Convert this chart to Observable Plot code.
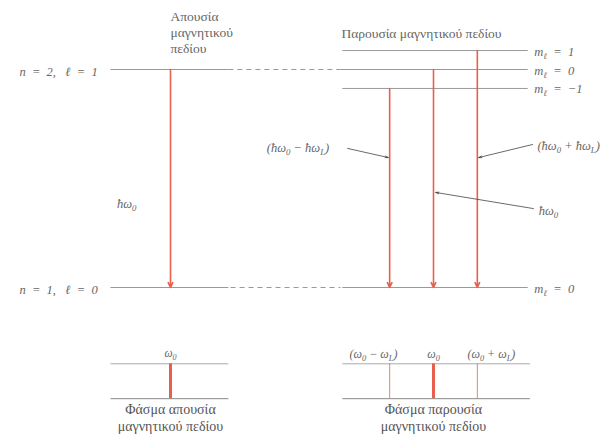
<!DOCTYPE html>
<html>
<head>
<meta charset="utf-8">
<script src="https://cdn.jsdelivr.net/npm/d3@7"></script>
<script src="https://cdn.jsdelivr.net/npm/@observablehq/plot@0.6"></script>
<style>
  html, body { margin: 0; padding: 0; background: #fff; }
  #chart svg { display: block; }
</style>
</head>
<body>
<div id="chart"></div>
<script>
// ---- Data (diagram units: x = column position, y = energy, n=1 level at 0) ----
const E1 = 0;            // n = 1, ℓ = 0
const E2 = 10;           // n = 2, ℓ = 1
const dE = 0.87;         // Zeeman shift per unit of mℓ
const mValues = [1, 0, -1];
const colNoField = 0;    // column without field
const colField = 6;      // column with field

const levelLabels = ["n  =  2,   ℓ  =  1", "n  =  1,   ℓ  =  0"];
const mLabels = ["m_ℓ  =  1", "m_ℓ  =  0", "m_ℓ  =  −1"];
const groundLabel = "m_ℓ  =  0";

const titleNoField = "Απουσία\nμαγνητικού\nπεδίου";
const titleField = "Παρουσία μαγνητικού πεδίου";
const specTitleNoField = "Φάσμα απουσία\nμαγνητικού πεδίου";
const specTitleField = "Φάσμα παρουσία\nμαγνητικού πεδίου";

const energyLabelLeft = "ħω_0";
const transitionLabels = ["(ħω_0 − ħω_L)", "ħω_0", "(ħω_0 + ħω_L)"];
const spectrumLabelLeft = "ω_0";
const spectrumLabels = ["(ω_0 − ω_L)", "ω_0", "(ω_0 + ω_L)"];

// level segments
const levelSegments = [
  {x1: -1.37, x2: 1.32, y: E2, dash: false},
  {x1: 1.32, x2: 3.88, y: E2, dash: true},
  {x1: 3.88, x2: 8.15, y: E2, dash: false},
  {x1: 3.92, x2: 8.15, y: E2 + dE, dash: false},
  {x1: 3.92, x2: 8.15, y: E2 - dE, dash: false},
  {x1: -1.37, x2: 1.32, y: E1, dash: false},
  {x1: 1.37, x2: 3.88, y: E1, dash: true},
  {x1: 3.92, x2: 8.15, y: E1, dash: false}
];

// spectrum rows (diagram units below the ground level)
const specTop = -3.5, specBottom = -5.1;
const specFrames = [
  {x1: -1.37, x2: 1.32, y: specTop, c: "#aaa"},
  {x1: -1.37, x2: 1.32, y: specBottom, c: "#888"},
  {x1: 3.92, x2: 8.2, y: specTop, c: "#aaa"},
  {x1: 3.92, x2: 8.2, y: specBottom, c: "#888"}
];

// transitions
const transitions = [
  {x: colNoField, from: E2, to: E1},
  ...mValues.map(m => ({x: colField + m, from: E2 + m * dE, to: E1}))
];
const spectralLines = [
  {x: colNoField, w: 3},
  ...mValues.map(m => ({x: colField + m, w: m === 0 ? 3 : 0.8}))
];

// annotation pointers
const pointers = [
  {x1: 4.04, y1: 6.38, x2: 4.97, y2: 5.96},
  {x1: 8.28, y1: 3.62, x2: 6.05, y2: 4.36},
  {x1: 8.26, y1: 6.56, x2: 7.03, y2: 5.96}
];
const transLabelPos = [
  {x: 3.62, y: 6.38},
  {x: 8.4, y: 3.49},
  {x: 8.37, y: 6.47}
];
const specLabelPos = [4.63, 6, 7.32];

const RED = "#e8604c";
const TXT = "#666";
const LINE = "#999";
const FONT = "'Liberation Serif', 'DejaVu Serif', serif";

const plot = Plot.plot({
  width: 610,
  height: 435,
  margin: 0,
  x: {domain: [0, 6], range: [170, 433], axis: null},
  y: {domain: [0, 10], range: [287, 69], axis: null},
  style: {fontFamily: FONT, background: "#fff"},
  marks: [
    // energy levels
    Plot.link(levelSegments.filter(d => !d.dash), {x1: "x1", x2: "x2", y1: "y", y2: "y", stroke: LINE, strokeWidth: 1}),
    Plot.link(levelSegments.filter(d => d.dash), {x1: "x1", x2: "x2", y1: "y", y2: "y", stroke: LINE, strokeWidth: 1, strokeDasharray: "5,4"}),
    // transitions
    Plot.arrow(transitions, {x: "x", y1: "from", y2: "to", stroke: RED, strokeWidth: 1.6, headLength: 5, headAngle: 50}),
    // spectra
    Plot.link(specFrames, {x1: "x1", x2: "x2", y1: "y", y2: "y", stroke: "c", strokeWidth: 1}),
    Plot.ruleX(spectralLines, {x: "x", y1: specTop, y2: specBottom, stroke: RED, strokeWidth: "w"}),
    // pointers
    Plot.arrow(pointers, {x1: "x1", y1: "y1", x2: "x2", y2: "y2", stroke: "#444", strokeWidth: 0.8, headLength: 6, headAngle: 30}),
    // level labels
    Plot.text(levelLabels, {x: -1.66, y: [E2, E1], text: d => d, textAnchor: "end", dy: 2, fill: TXT, fontSize: 12.5, fontStyle: "italic"}),
    Plot.text(mLabels, {x: 8.3, y: mValues.map(m => E2 + m * dE), text: d => d, textAnchor: "start", dy: 1, fill: TXT, fontSize: 12.5, fontStyle: "italic"}),
    Plot.text([groundLabel], {x: 8.3, y: E1, text: d => d, textAnchor: "start", dy: 1, fill: TXT, fontSize: 12.5, fontStyle: "italic"}),
    // titles
    Plot.text([titleNoField], {x: colNoField, y: 11.72, text: d => d, textAnchor: "start", lineHeight: 1.2, fill: TXT, fontSize: 13.5}),
    Plot.text([titleField], {x: 3.9, y: 11.65, text: d => d, textAnchor: "start", fill: TXT, fontSize: 13.5}),
    // energy labels
    Plot.text([energyLabelLeft], {x: -1.22, y: 3.85, text: d => d, textAnchor: "start", fill: TXT, fontSize: 12.5, fontStyle: "italic"}),
    Plot.text([transitionLabels[0]], {x: transLabelPos[0].x, y: transLabelPos[0].y, text: d => d, textAnchor: "end", fill: TXT, fontSize: 12.5, fontStyle: "italic"}),
    Plot.text(transitionLabels.slice(1), {x: transLabelPos.slice(1).map(d => d.x), y: transLabelPos.slice(1).map(d => d.y), text: d => d, textAnchor: "start", fill: TXT, fontSize: 12.5, fontStyle: "italic"}),
    // spectrum labels
    Plot.text([spectrumLabelLeft], {x: colNoField, y: specTop, dy: -10, text: d => d, fill: TXT, fontSize: 11.5, fontStyle: "italic"}),
    Plot.text(spectrumLabels, {x: specLabelPos, y: specTop, dy: -10, text: d => d, fill: TXT, fontSize: 12, fontStyle: "italic"}),
    Plot.text([specTitleNoField], {x: colNoField, y: -5.95, text: d => d, lineHeight: 1.2, fill: "#555", fontSize: 14}),
    Plot.text([specTitleField], {x: colField, y: -5.95, text: d => d, lineHeight: 1.2, fill: "#555", fontSize: 14})
  ]
});

// turn "_X" into a real subscript tspan
function subscripts(node) {
  const s = node.textContent;
  if (!s.includes("_")) return;
  node.textContent = "";
  const parts = s.split(/(_.)/);
  let shifted = false;
  for (const p of parts) {
    if (!p) continue;
    const ts = document.createElementNS("http://www.w3.org/2000/svg", "tspan");
    if (p.startsWith("_")) {
      ts.textContent = p.slice(1);
      ts.setAttribute("dy", "3");
      ts.setAttribute("font-size", "70%");
      shifted = true;
    } else {
      ts.textContent = p;
      if (shifted) { ts.setAttribute("dy", "-3"); shifted = false; }
    }
    node.appendChild(ts);
  }
}
plot.querySelectorAll("text").forEach(t => {
  const spans = t.querySelectorAll("tspan");
  if (spans.length) spans.forEach(subscripts); else subscripts(t);
});

document.getElementById("chart").appendChild(plot);
</script>
</body>
</html>
